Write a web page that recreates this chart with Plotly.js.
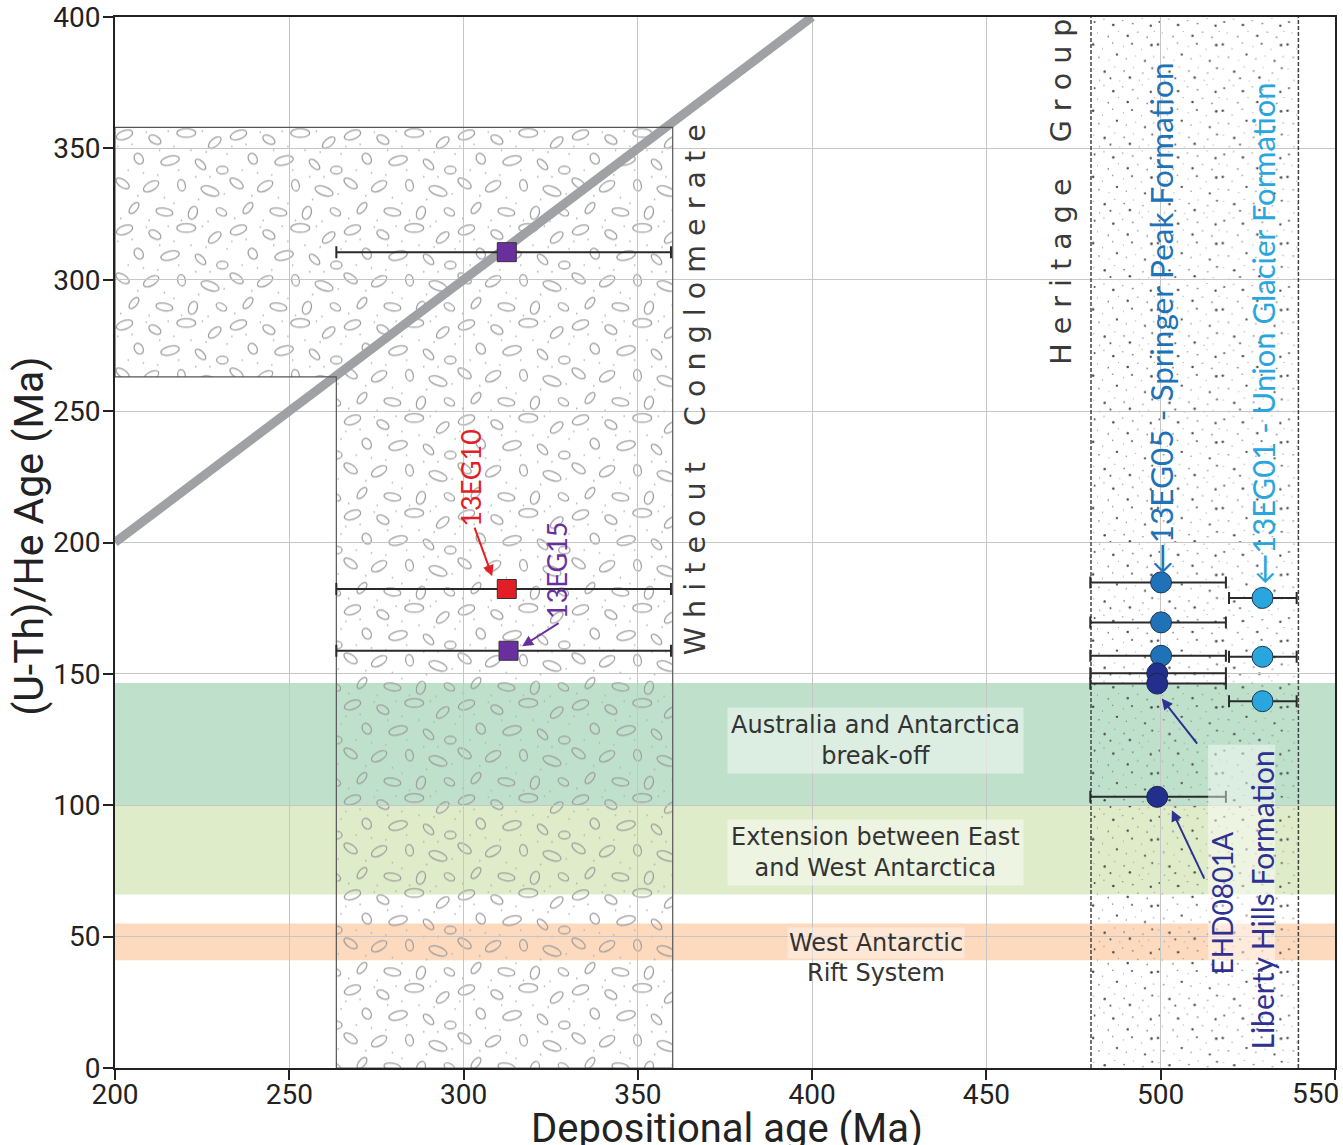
<!DOCTYPE html>
<html>
<head>
<meta charset="utf-8">
<script src="https://cdn.plot.ly/plotly-3.0.1.min.js"></script>
<style>html,body{margin:0;padding:0;background:#fff;}#chart{width:1343px;height:1145px;}</style>
</head>
<body>
<div id="chart"></div>
<script>
// ---------- data ----------
const xRange = [200, 550];
const yRange = [0, 400];
const xTicks = [200, 250, 300, 350, 400, 450, 500, 550];
const xTickText = ["200", "250", "300", "350", "400", "450", "500", ""];
const lastXTickLabel = "550";
const tickStep = 50;

// 1:1 reference line
const oneToOneX = [200, 400];
const oneToOneY = [200, 400];

// Whiteout Conglomerate outline (depositional-age box)
const congX = [263.5, 360, 360, 200, 200, 263.5, 263.5];
const congY = [0, 0, 358, 358, 263, 263, 0];

// Heritage Group depositional range
const heritageRange = [480, 539.5];

// tectonic event bands
const bandNames = ["Australia and Antarctica<br>break-off", "Extension between East<br>and West Antarctica", "West Antarctic"];
const bandLow = [100, 66, 41];
const bandHigh = [146.5, 100, 55];
const bandColors = ["rgba(115,190,142,0.46)", "rgba(172,206,112,0.38)", "rgba(250,168,100,0.42)"];

// Whiteout Conglomerate samples
const eg15X = [312.4, 312.9];
const eg15Y = [310.5, 158.8];
const eg15Lo = [263.5, 263.5];
const eg15Hi = [359.5, 359.5];
const eg10X = [312.4];
const eg10Y = [182.3];
const eg10Lo = [263.5];
const eg10Hi = [359.5];

// Heritage Group samples
const springerX = [500.1, 500.1, 500.1];
const springerY = [184.8, 169.6, 156.9];
const springerLo = [479.8, 479.8, 479.8];
const springerHi = [518.7, 518.7, 518.7];

const libertyX = [499.0, 499.0, 499.0];
const libertyY = [150.2, 146.3, 103.2];
const libertyLo = [479.8, 479.8, 479.8];
const libertyHi = [518.7, 518.7, 518.7];

const unionX = [529.2, 529.2, 529.2];
const unionY = [178.9, 156.5, 139.6];
const unionLo = [519.6, 519.6, 519.6];
const unionHi = [539.0, 539.0, 539.0];

// ---------- styling ----------
const W = 1343, H = 1145;
const M = {l: 115, r: 8, t: 17, b: 77};
const plotW = W - M.l - M.r, plotH = H - M.t - M.b;
const pxX = plotW / (xRange[1] - xRange[0]);
const pxY = plotH / (yRange[1] - yRange[0]);

const COND = "Roboto, 'Liberation Sans', sans-serif";
const HUMAN = "Lato, 'Open Sans', 'Noto Sans', sans-serif";
const WIDE = "'DejaVu Sans', Verdana, sans-serif";

const purple = "#6a2f9e", red = "#e41e26";
const cSpringer = "#2072b8", cLiberty = "#232f8c", cUnion = "#2aa6de";

// ---------- textures (decoration only) ----------
const congEllipses = [
  [10,8,9,4.5,-20],[42,13,7,4,30],[75,6,10,4.5,0],[105,16,8,4,-40],
  [25,33,6,4.5,60],[58,35,10,4.5,-15],[90,39,7,3.5,45],[113,45,6,4,0],
  [8,59,8,4,35],[38,62,9,4.5,-30],[70,61,6,4,80],[100,67,10,4.5,20],
  [20,85,7,3.5,-50],[52,89,9,4,10],[82,90,7,4.5,-70],[112,89,6,3.5,30]
];
const congDots = [[3,20],[18,18],[33,5],[30,48],[47,24],[62,20],[67,45],[80,24],[96,26],[118,28],[24,72],[52,74],[62,80],[88,76],[100,52],[115,70],[6,96],[36,98],[70,98],[98,99],[85,52],[45,50],[14,45],[56,4],[92,4]];
const stipple = [[5,7,1.2],[18,3,0.7],[31,11,1.6],[44,5,0.8],[58,9,1.1],[71,2,0.6],[83,12,1.4],
  [9,22,0.7],[24,27,1.0],[38,20,0.6],[51,26,1.5],[65,21,0.8],[78,28,1.0],[88,20,0.6],
  [3,38,1.5],[16,44,0.7],[30,36,0.9],[45,41,0.6],[57,37,1.2],[70,45,0.7],[84,39,1.6],
  [11,56,1.0],[25,60,0.6],[36,52,1.4],[49,58,0.8],[62,54,0.6],[75,61,1.3],[87,55,0.8],
  [4,72,0.6],[19,76,1.5],[33,69,0.7],[46,75,1.1],[59,70,0.6],[72,78,0.9],[85,71,1.2],
  [12,88,0.8],[27,85,1.2],[40,89,0.6],[54,84,1.5],[67,88,0.7],[80,86,0.6]];

function svgUri(s){ return "data:image/svg+xml;charset=utf-8," + encodeURIComponent(s); }

const congLeft = Math.min(...congX), congRight = Math.max(...congX), congTop = Math.max(...congY);
function congSvg(){
  const w = (congRight - congLeft) * pxX, h = congTop * pxY;
  const pts = congX.map((x,i)=>`${((x-congLeft)*pxX).toFixed(1)},${((congTop-congY[i])*pxY).toFixed(1)}`).join(" ");
  const ell = congEllipses.map(e=>`<ellipse cx="${e[0]}" cy="${e[1]}" rx="${e[2]}" ry="${e[3]}" transform="rotate(${e[4]} ${e[0]} ${e[1]})" fill="none" stroke="#9c9c9c" stroke-width="1.3"/>`).join("");
  const dots = congDots.map(d=>`<circle cx="${d[0]}" cy="${d[1]}" r="0.9" fill="#b0b0b0"/>`).join("");
  return `<svg xmlns="http://www.w3.org/2000/svg" width="${w}" height="${h}" viewBox="0 0 ${w} ${h}"><defs><pattern id="p" width="120" height="100" patternUnits="userSpaceOnUse" patternTransform="scale(0.95)">${ell}${dots}</pattern></defs><polygon points="${pts}" fill="url(#p)"/></svg>`;
}
function heritageSvg(){
  const w = (heritageRange[1]-heritageRange[0]) * pxX, h = (yRange[1]-yRange[0]) * pxY;
  const dots = stipple.map(d=>`<circle cx="${d[0]}" cy="${d[1]}" r="${d[2]*1.15}" fill="${d[2]>1.1?'#4a4a4a':'#7a7a7a'}"/>`).join("");
  return `<svg xmlns="http://www.w3.org/2000/svg" width="${w}" height="${h}" viewBox="0 0 ${w} ${h}"><defs><pattern id="s" width="90" height="92" patternUnits="userSpaceOnUse" patternTransform="scale(0.72)">${dots}</pattern></defs><rect x="0" y="0" width="${w}" height="${h}" fill="url(#s)"/></svg>`;
}

// ---------- traces ----------
function errX(x, lo, hi){
  return {type:"data", symmetric:false, array:x.map((v,i)=>hi[i]-v), arrayminus:x.map((v,i)=>v-lo[i]), color:"#2a2a2a", thickness:2, width:6};
}
const traces = [
  {x: oneToOneX, y: oneToOneY, mode:"lines", line:{color:"#9fa1a4", width:9}, hoverinfo:"skip"},
  {x: congX, y: congY, mode:"lines", line:{color:"#555", width:1.2}, hoverinfo:"skip"},
  {x: [heritageRange[0], heritageRange[0], null, heritageRange[1], heritageRange[1]], y:[yRange[0], yRange[1], null, yRange[0], yRange[1]],
   mode:"lines", line:{color:"#444", width:1.5, dash:"4px,2px"}, hoverinfo:"skip"},
  {x: eg15X, y: eg15Y, mode:"markers", error_x: errX(eg15X, eg15Lo, eg15Hi), marker:{symbol:"square", size:19, color:purple, line:{color:"#333", width:1}}},
  {x: eg10X, y: eg10Y, mode:"markers", error_x: errX(eg10X, eg10Lo, eg10Hi), marker:{symbol:"square", size:19, color:red, line:{color:"#333", width:1}}},
  {x: springerX, y: springerY, mode:"markers", error_x: errX(springerX, springerLo, springerHi), marker:{symbol:"circle", size:21, color:cSpringer, line:{color:"#1b3550", width:1}}},
  {x: libertyX, y: libertyY, mode:"markers", error_x: errX(libertyX, libertyLo, libertyHi), marker:{symbol:"circle", size:21, color:cLiberty, line:{color:"#1b2550", width:1}}},
  {x: unionX, y: unionY, mode:"markers", error_x: errX(unionX, unionLo, unionHi), marker:{symbol:"circle", size:21, color:cUnion, line:{color:"#1b3550", width:1}}}
];

// ---------- shapes ----------
const shapes = bandLow.map((lo,i)=>({type:"rect", xref:"x", yref:"y", x0:xRange[0], x1:xRange[1], y0:lo, y1:bandHigh[i], fillcolor:bandColors[i], line:{width:0}, layer:"below"}));
shapes.push({type:"rect", xref:"x", yref:"y", x0:513.6, x1:532.8, y0:40, y1:123, fillcolor:"rgba(255,255,255,0.45)", line:{width:0}, layer:"above"});

// ---------- annotations ----------
function txt(text, x, y, size, color, family, extra){
  return Object.assign({text, x, y, xref:"x", yref:"y", showarrow:false, xanchor:"center", yanchor:"middle", font:{size, color, family}}, extra||{});
}
function arrow(x, y, ax, ay, color){
  return {text:"", x, y, ax, ay, xref:"x", yref:"y", axref:"x", ayref:"y", showarrow:true, arrowhead:2, arrowsize:1.1, arrowwidth:2, arrowcolor:color};
}
const bandTextY = [124.5, 82.2, 47.5];
const annotations = [
  txt(bandNames[0], 418.2, bandTextY[0], 24, "#333", WIDE, {bgcolor:"rgba(255,255,255,0.45)", borderpad:3}),
  txt(bandNames[1], 418.2, bandTextY[1], 24, "#333", WIDE, {bgcolor:"rgba(255,255,255,0.45)", borderpad:3}),
  txt(bandNames[2], 418.2, bandTextY[2], 24, "#333", WIDE, {bgcolor:"rgba(255,255,255,0.35)", borderpad:1}),
  txt("Rift System", 418.2, 36.3, 24, "#333", WIDE),
  txt("W h i t e o u t &nbsp; &nbsp;C o n g l o m e r a t e", 366.4, 258, 28.5, "#3a3a3a", WIDE, {textangle:-90}),
  txt("H e r i t a g e &nbsp; &nbsp;G r o u p", 471.7, 333.5, 28.5, "#3a3a3a", WIDE, {textangle:-90}),
  txt("←13EG05 - Springer Peak Formation", 500.1, 285.2, 31.5, cSpringer, HUMAN, {textangle:-90}),
  txt("←13EG01 - Union Glacier Formation", 529.1, 279.5, 31, cUnion, HUMAN, {textangle:-90}),
  txt("EHD0801A", 517.5, 62.9, 28, "#2e3192", HUMAN, {textangle:-90}),
  txt("Liberty Hills Formation", 529.1, 63.8, 30, "#2e3192", HUMAN, {textangle:-90}),
  txt("13EG10", 302.0, 224.5, 27, red, HUMAN, {textangle:-90}),
  txt("13EG15", 326.5, 189.5, 27, purple, HUMAN, {textangle:-90}),
  arrow(308.2, 187.2, 303.0, 206.2, red),
  arrow(316.8, 160.5, 327.7, 169.7, purple),
  arrow(500.3, 140.6, 510.8, 122.9, "#2e3192"),
  arrow(503.2, 98.1, 512.7, 71.5, "#2e3192"),
  {text:lastXTickLabel, xref:"paper", yref:"paper", x:(W - 2 - M.l)/plotW, y:-0.0245, showarrow:false, xanchor:"right", yanchor:"middle", font:{size:28, color:"#222", family:COND}},
  {text:"Depositional age (Ma)", xref:"paper", yref:"paper", x:0.502, y:-0.058, showarrow:false, xanchor:"center", yanchor:"middle", font:{size:40, color:"#222", family:COND}},
  {text:"(U-Th)/He Age (Ma)", xref:"paper", yref:"paper", x:-0.07, y:0.506, showarrow:false, xanchor:"center", yanchor:"middle", textangle:-90, font:{size:41, color:"#222", family:COND}}
];

// ---------- layout ----------
const axisCommon = {
  ticks:"outside", ticklen:10, tickwidth:2, tickcolor:"#222",
  showline:true, linecolor:"#222", linewidth:2, mirror:true,
  showgrid:true, gridcolor:"#c6c6c6", gridwidth:1, zeroline:false,
  ticklabeloverflow:"allow",
  tickfont:{size:28, color:"#222", family:COND}, fixedrange:true
};
const layout = {
  width: W, height: H, margin: M, showlegend:false,
  paper_bgcolor:"#ffffff", plot_bgcolor:"#ffffff",
  xaxis: Object.assign({}, axisCommon, {range:xRange, tickmode:"array", tickvals:xTicks, ticktext:xTickText, ticklabelstandoff:-10}),
  yaxis: Object.assign({}, axisCommon, {range:yRange, tick0:0, dtick:tickStep, ticklabelstandoff:-3}),
  shapes, annotations,
  images: [
    {source: svgUri(congSvg()), xref:"x", yref:"y", x:congLeft, y:congTop, sizex:congRight-congLeft, sizey:congTop, xanchor:"left", yanchor:"top", sizing:"stretch", layer:"below"},
    {source: svgUri(heritageSvg()), xref:"x", yref:"y", x:heritageRange[0], y:yRange[1], sizex:heritageRange[1]-heritageRange[0], sizey:yRange[1]-yRange[0], xanchor:"left", yanchor:"top", sizing:"stretch", layer:"below"}
  ]
};
Plotly.newPlot("chart", traces, layout, {displayModeBar:false, staticPlot:true});
</script>
</body>
</html>
